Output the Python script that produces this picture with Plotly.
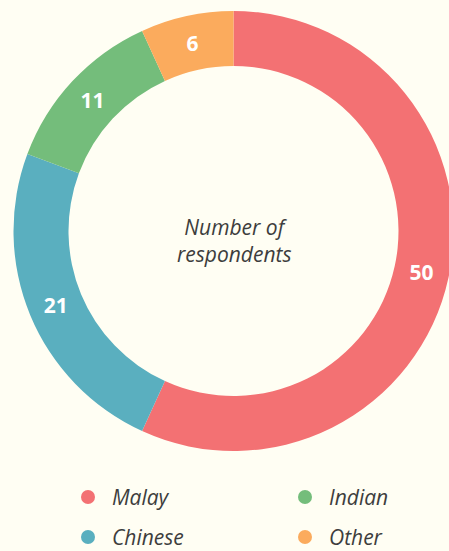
import plotly.graph_objects as go

groups = ["Malay", "Chinese", "Indian", "Other"]
respondents = [50, 21, 11, 6]
colours = ["#f37173", "#5aafbf", "#74bd7b", "#fbab5d"]

# legend reads row by row: Malay, Indian / Chinese, Other
legend_order = ["Malay", "Indian", "Chinese", "Other"]

# the ring in the reference runs slightly past the right edge of the
# window, so the figure is a touch wider than the 449px view
W, H = 454, 551
BG = "#fffef3"
INK = "#3d3d3d"
FONT = "Open Sans"


def px_x(x):
    return x / W


def px_y(y):
    return 1 - y / H


fig = go.Figure(
    go.Pie(
        labels=groups,
        values=respondents,
        marker=dict(colors=colours, line=dict(width=0)),
        hole=0.75,
        sort=False,
        direction="clockwise",
        rotation=0,
        textinfo="value",
        textposition="inside",
        insidetextorientation="horizontal",
        textfont=dict(family=FONT, size=21, color="white", weight="bold"),
        domain=dict(x=[px_x(13.5), px_x(453.5)], y=[px_y(451), px_y(11)]),
        showlegend=False,
        hoverinfo="label+value",
    )
)

# centre caption
fig.add_annotation(
    x=px_x(234), y=px_y(240), xref="paper", yref="paper",
    text="<i>Number of<br>respondents</i>", showarrow=False,
    font=dict(family=FONT, size=21, color=INK),
)

# hand-made two-column legend
slots = [(88, 497), (305, 497), (88, 537), (305, 537)]
for name, (lx, ly) in zip(legend_order, slots):
    col = colours[groups.index(name)]
    fig.add_shape(
        type="circle", xref="paper", yref="paper",
        xsizemode="pixel", ysizemode="pixel",
        xanchor=px_x(lx), yanchor=px_y(ly),
        x0=-7, x1=7, y0=-7, y1=7,
        fillcolor=col, line=dict(width=0),
    )
    fig.add_annotation(
        x=px_x(lx + 22), y=px_y(ly), xref="paper", yref="paper",
        xanchor="left", yanchor="middle",
        text=f"<i>{name}</i>", showarrow=False,
        font=dict(family=FONT, size=21, color=INK),
    )

fig.update_layout(
    width=W, height=H,
    margin=dict(l=0, r=0, t=0, b=0),
    paper_bgcolor=BG, plot_bgcolor=BG,
)

# drop the browser's default body margin so the figure fills the window
fig.write_html(
    "out.html",
    config={"displayModeBar": False},
    post_script="document.body.style.margin='0';document.body.style.overflow='hidden';",
)
